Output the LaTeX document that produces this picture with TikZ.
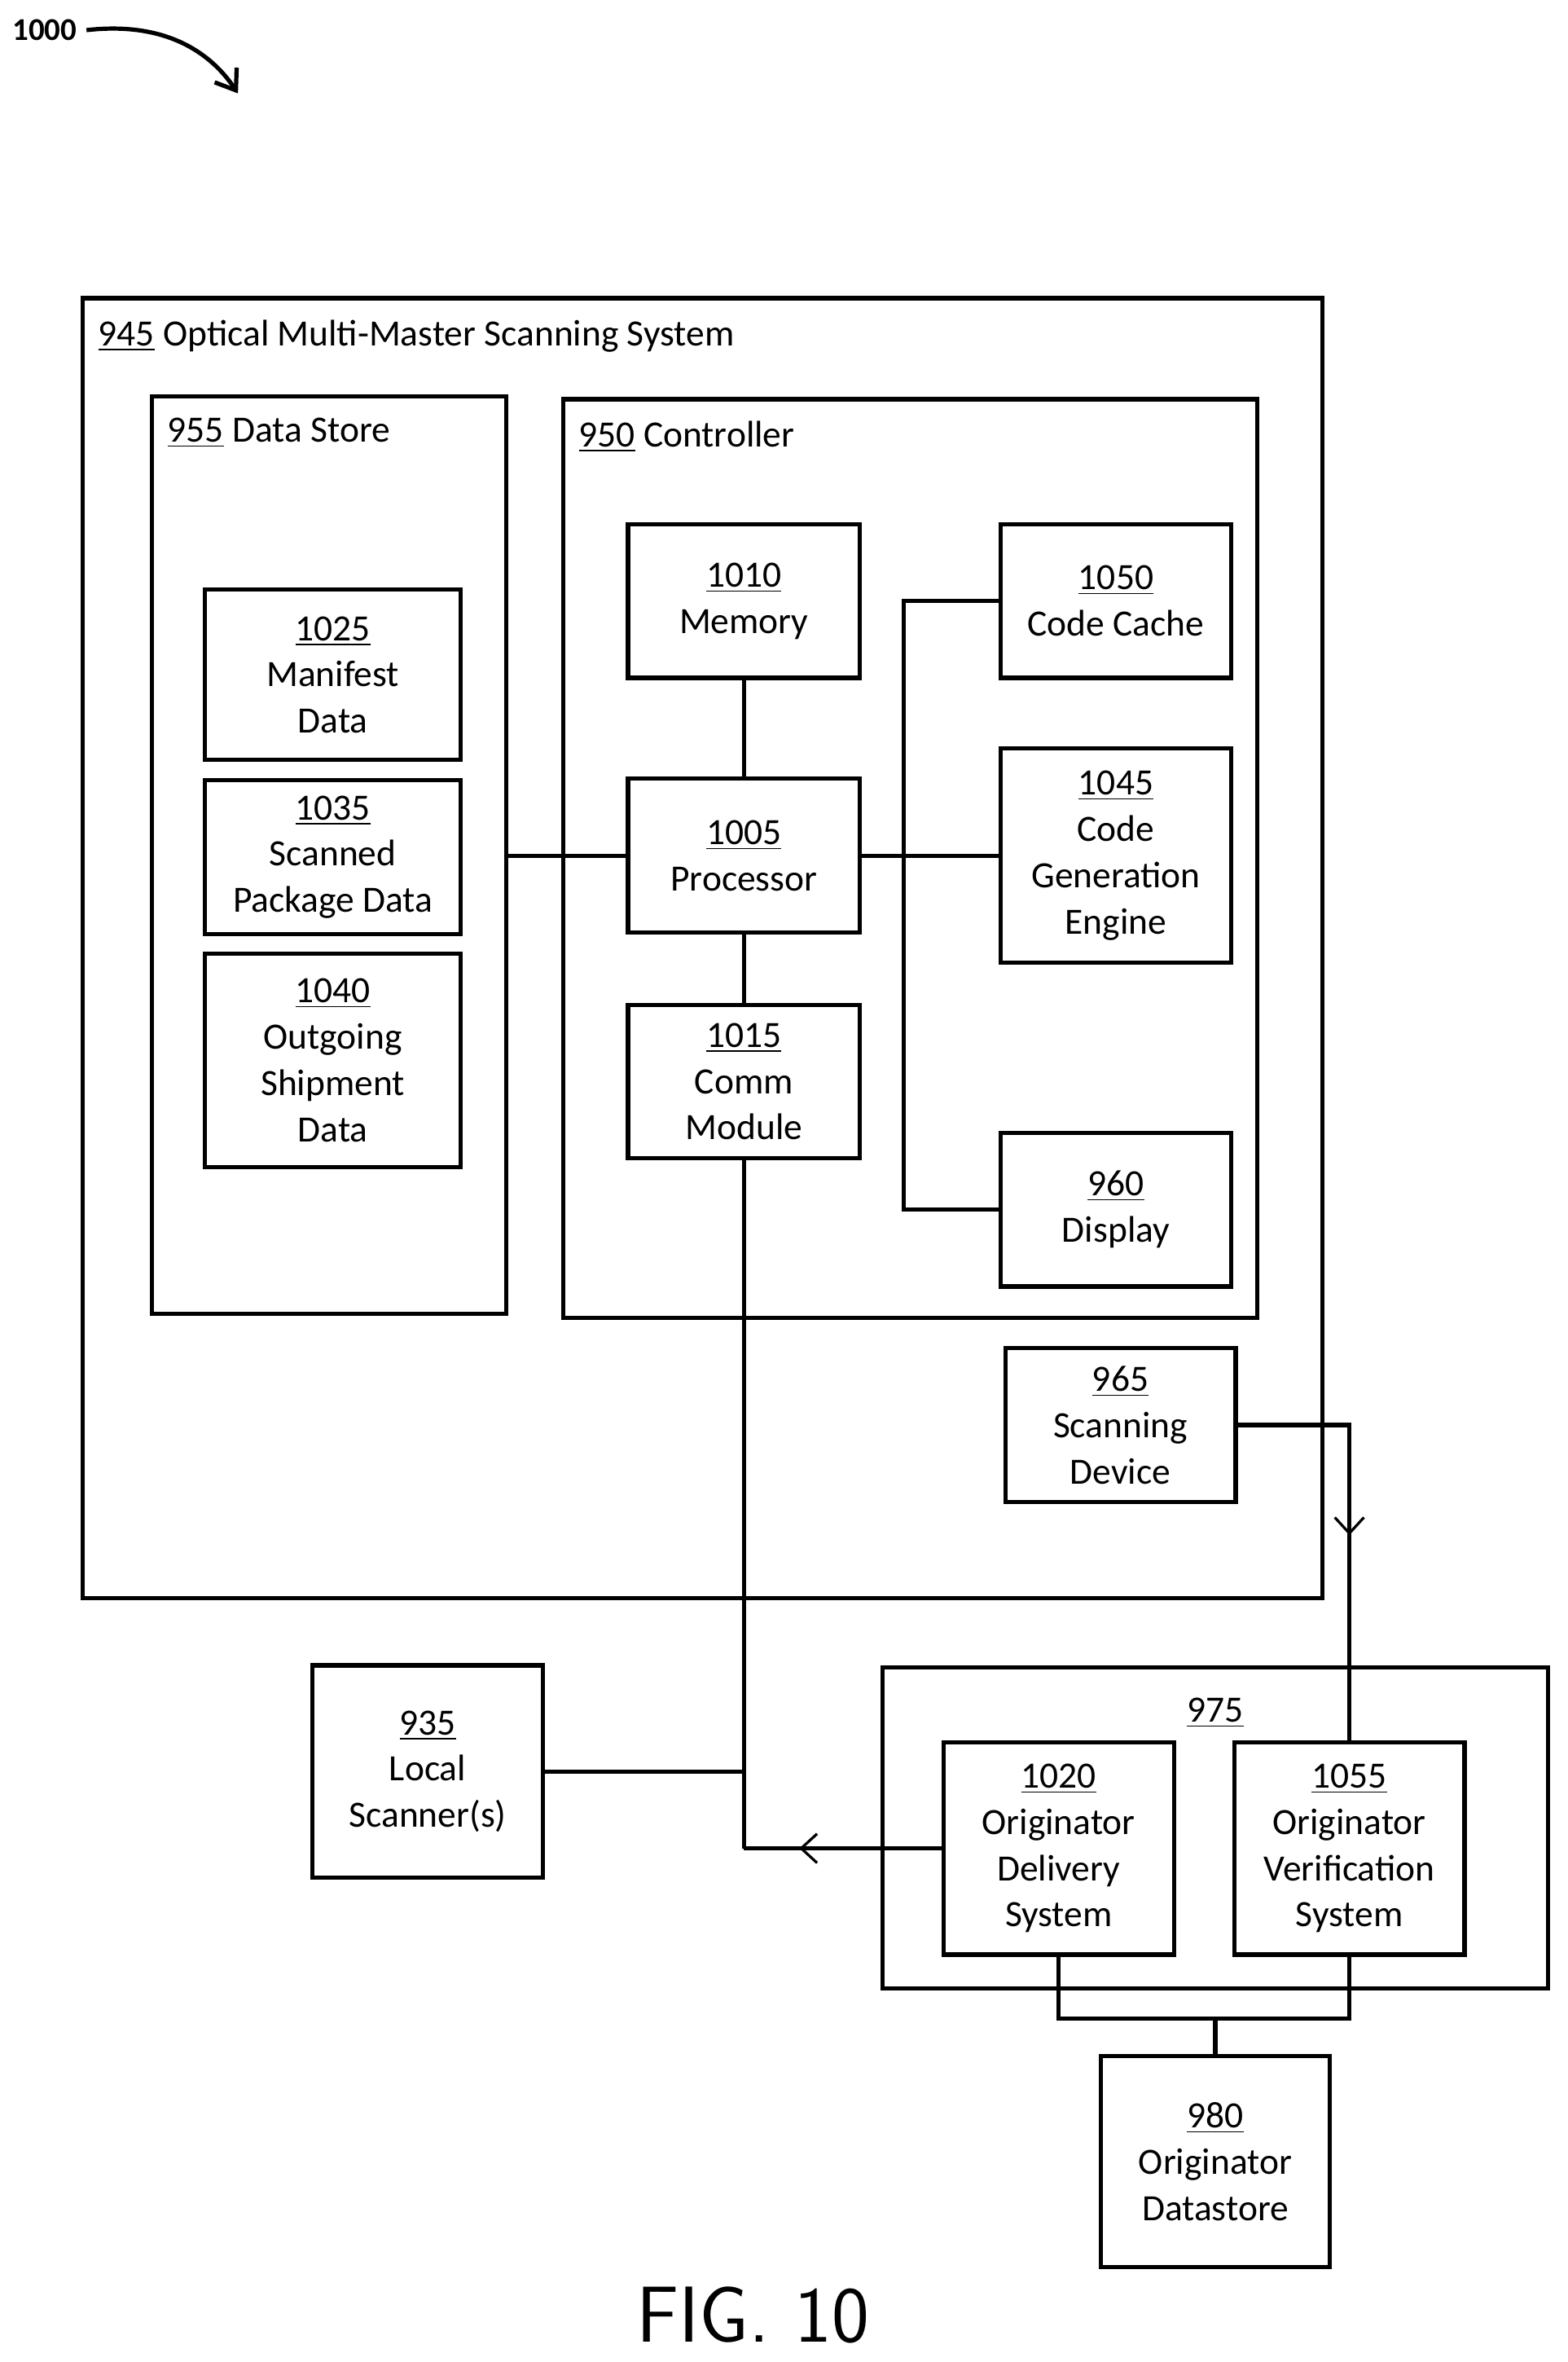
\documentclass[tikz,border=0pt]{standalone}
\usepackage{fontspec}
\setmainfont{Carlito}
\usetikzlibrary{arrows.meta, positioning, calc, decorations.markings}

\tikzset{
    box/.style n args={2}{draw, line width=1.6pt, align=center, inner sep=2pt,
        minimum width=#1*0.02cm, minimum height=#2*0.02cm,
        font=\fontsize{14}{17.5}\selectfont},
    frame/.style n args={2}{draw, line width=1.6pt,
        minimum width=#1*0.02cm, minimum height=#2*0.02cm},
    title/.style={anchor=north west, font=\fontsize{14}{17.5}\selectfont, inner sep=0pt},
    wire/.style={line width=1.6pt},
    midarrow/.style={decoration={markings, mark=at position #1 with {\arrow{Straight Barb[length=6pt,width=11pt,line width=1pt]}}}, postaction=decorate}
}

\begin{document}
\begin{tikzpicture}[x=0.02cm, y=-0.02cm]
    \useasboundingbox (0,0) rectangle (1041,1568);

    % Figure label
    \node[anchor=west, font=\bfseries\fontsize{12}{14}\selectfont, inner sep=0pt] (fig) at (8,20) {1000};
    \coordinate (figtip) at (158,62);
    \draw[wire, -{Straight Barb[length=7pt,width=10pt]}] (fig.east) ++(6,0) .. controls (110,14) and (140,35) .. (figtip);

    % Containers
    \node[frame={823}{863}] (oms) at (466.5,629.5) {};
    \node[title] at (65,212) {\underline{945} Optical Multi-Master Scanning System};
    \node[frame={235}{609}] (store) at (218.5,567.5) {};
    \node[title] at (111,277) {\underline{955} Data Store};
    \node[frame={461}{610}] (ctrl) at (604.5,570) {};
    \node[title] at (384,279) {\underline{950} Controller};

    % Data store contents
    \node[box={170}{113}] (manifest) at (221,448) {\underline{1025}\\Manifest\\Data};
    \node[box={170}{102}] (scanned) at (221,569) {\underline{1035}\\Scanned\\Package Data};
    \node[box={170}{142}] (outgoing) at (221,704) {\underline{1040}\\Outgoing\\Shipment\\Data};

    % Controller contents
    \node[box={154}{102}] (memory) at (494,399) {\underline{1010}\\Memory};
    \node[box={154}{102}] (proc) at (494,568) {\underline{1005}\\Processor};
    \node[box={154}{102}] (comm) at (494,718) {\underline{1015}\\Comm\\Module};
    \node[box={153}{102}] (cache) at (741,399) {\underline{1050}\\Code Cache};
    \node[box={153}{142}] (engine) at (741,568) {\underline{1045}\\Code\\Generation\\Engine};
    \node[box={153}{102}] (display) at (741,803) {\underline{960}\\Display};
    \node[box={153}{102}] (scandev) at (744,946) {\underline{965}\\Scanning\\Device};

    % Outside
    \node[box={153}{141}] (local) at (284,1176) {\underline{935}\\Local\\Scanner(s)};
    \node[frame={442}{213}] (orig) at (807,1213.5) {};
    \node[font=\fontsize{14}{17.5}\selectfont, anchor=north] at (807,1121) {\underline{975}};
    \node[box={153}{141}] (delivery) at (703,1227) {\underline{1020}\\Originator\\Delivery\\System};
    \node[box={153}{141}] (verify) at (896,1227) {\underline{1055}\\Originator\\Verification\\System};
    \node[box={152}{140}] (datastore) at (807,1435) {\underline{980}\\Originator\\Datastore};

    \node[font=\fontsize{30}{34}\selectfont\sffamily] (figlabel) at (500,1537) {FIG. 10};

    % Connectors
    \coordinate (bus) at (600,568);
    \draw[wire] (store.east |- proc) -- (proc.west);
    \draw[wire] (memory) -- (proc);
    \draw[wire] (proc) -- (comm);
    \draw[wire] (proc.east) -- (engine.west);
    \draw[wire] (cache.west) -| (bus) |- (display.west);
    \coordinate (tee) at (comm.south |- local.east);
    \draw[wire] (comm.south) -- (comm.south |- delivery.west);
    \draw[wire] (local.east) -- (tee);
    \draw[wire, midarrow=0.72] (delivery.west) -- (comm.south |- delivery.west);
    \draw[wire, midarrow=0.52] (scandev.east) -| (verify.north);
    \coordinate (join) at (807,1340);
    \draw[wire] (delivery.south) |- (join) -| (verify.south);
    \draw[wire] (datastore.north) -- (join);
\end{tikzpicture}
\end{document}
